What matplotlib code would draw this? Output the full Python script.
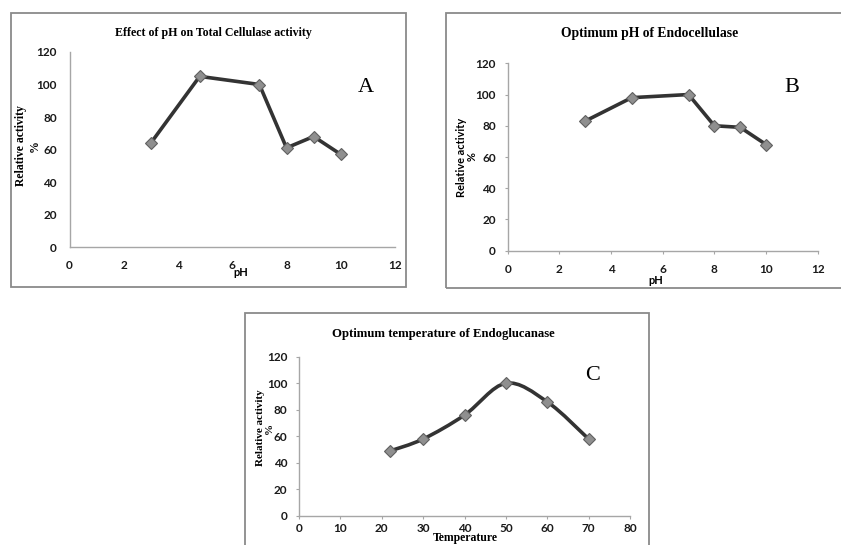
import matplotlib
matplotlib.use("Agg")
import matplotlib.pyplot as plt
from matplotlib.patches import Rectangle, PathPatch
from matplotlib.path import Path
import numpy as np

# ---- data ----
ph_a = [3, 4.8, 7, 8, 9, 10]
act_a = [64, 105, 100, 61, 68, 57]

ph_b = [3, 4.8, 7, 8, 9, 10]
act_b = [83, 98, 100, 80, 79, 68]

temp_c = [22, 30, 40, 50, 60, 70]
act_c = [49, 58, 76, 100, 86, 58]

yticks = [0, 20, 40, 60, 80, 100, 120]
xticks_ph = [0, 2, 4, 6, 8, 10, 12]
xticks_t = [0, 10, 20, 30, 40, 50, 60, 70, 80]

W, H = 841, 545
fig = plt.figure(figsize=(W / 100, H / 100), dpi=100)
fig.patch.set_facecolor("white")

SERIF = "Liberation Serif"
SANS = "Lato"
LINE_C = "#333333"
AX_C = "#a6a6a6"
FRAME_C = "#8a8a8a"
TICK_FS = 8.5


def px_axes(x0, y0, x1, y1):
    return fig.add_axes([x0 / W, 1 - y1 / H, (x1 - x0) / W, (y1 - y0) / H])


def frame(x0, y0, x1, y1):
    fig.patches.append(Rectangle((x0 / W, 1 - y1 / H), (x1 - x0) / W, (y1 - y0) / H,
                                 transform=fig.transFigure, fill=False,
                                 edgecolor=FRAME_C, linewidth=1.3, zorder=0))


def style(ax, xt, xlim, ticks):
    ax.set_xlim(*xlim)
    ax.set_ylim(0, 120)
    ax.set_xticks(xt)
    ax.set_yticks(yticks)
    for s in ["top", "right"]:
        ax.spines[s].set_visible(False)
    for s in ["left", "bottom"]:
        ax.spines[s].set_color(AX_C)
        ax.spines[s].set_linewidth(1.0)
    ax.patch.set_alpha(0)
    if ticks:
        ax.tick_params(length=2.5, width=0.8, color=AX_C, direction="out")
    else:
        ax.tick_params(length=0)
    for lab in ax.get_xticklabels() + ax.get_yticklabels():
        lab.set_fontfamily(SANS)
        lab.set_fontweight("bold")
        lab.set_fontsize(TICK_FS)
        lab.set_color("#1a1a1a")


def marker_plot(ax, x, y, line=True):
    ax.plot(x, y, color=LINE_C, linewidth=2.6 if line else 0, marker="D", markersize=6,
            markerfacecolor="#8f8f8f", markeredgecolor="#606060", markeredgewidth=0.8,
            zorder=3)


# ---------- Panel A ----------
frame(11, 13, 406, 287)
axA = px_axes(69.5, 52, 395, 247)
marker_plot(axA, ph_a, act_a)
style(axA, xticks_ph, (0, 12), ticks=False)
axA.tick_params(axis="y", pad=9)
axA.tick_params(axis="x", pad=9)
fig.text(213 / W, 1 - 33 / H, "Effect of pH on Total Cellulase activity", family=SERIF,
         weight="bold", fontsize=8.6, ha="center", va="center")
fig.text(28 / W, 1 - 146 / H, "Relative activity\n%", family=SERIF, weight="bold",
         fontsize=8.5, rotation=90, ha="center", va="center", multialignment="center",
         linespacing=1.2)
fig.text(241 / W, 1 - 272 / H, "pH", family=SANS, weight="bold", fontsize=8,
         ha="center", va="center")
fig.text(366 / W, 1 - 88 / H, "A", family=SERIF, fontsize=16, ha="center", va="center")

# ---------- Panel B ----------
frame(446.5, 12.7, 860, 288.3)
axB = px_axes(507.7, 63.3, 817.7, 250.7)
marker_plot(axB, ph_b, act_b)
style(axB, xticks_ph, (0, 12), ticks=True)
axB.tick_params(axis="y", pad=6)
axB.tick_params(axis="x", pad=7)
fig.text(650 / W, 1 - 34 / H, "Optimum pH of Endocellulase", family=SERIF,
         weight="bold", fontsize=9.8, ha="center", va="center")
fig.text(467 / W, 1 - 157 / H, "Relative activity\n%", family=SANS, weight="bold",
         fontsize=7.9, rotation=90, ha="center", va="center", multialignment="center",
         linespacing=1.0)
fig.text(656 / W, 1 - 280 / H, "pH", family=SANS, weight="bold", fontsize=8,
         ha="center", va="center")
fig.text(792 / W, 1 - 88 / H, "B", family=SERIF, fontsize=16, ha="center", va="center")

# ---------- Panel C ----------
frame(245, 312.7, 649, 560)
axC = px_axes(299, 356.7, 630, 516)
xs = np.array(temp_c, dtype=float)
ys = np.array(act_c, dtype=float)
P = np.column_stack([xs, ys])
Pext = np.vstack([P[0], P, P[-1]])
verts = [tuple(P[0])]
codes = [Path.MOVETO]
for i in range(len(P) - 1):
    p0, p1, p2, p3 = Pext[i], Pext[i + 1], Pext[i + 2], Pext[i + 3]
    c1 = p1 + (p2 - p0) / 6.0
    c2 = p2 - (p3 - p1) / 6.0
    verts += [tuple(c1), tuple(c2), tuple(p2)]
    codes += [Path.CURVE4] * 3
axC.add_patch(PathPatch(Path(verts, codes), fill=False, edgecolor=LINE_C,
                        linewidth=2.6, zorder=2, capstyle="round"))
marker_plot(axC, temp_c, act_c, line=False)
style(axC, xticks_t, (0, 80), ticks=True)
axC.tick_params(axis="y", pad=6)
axC.tick_params(axis="x", pad=2.5)
fig.text(443 / W, 1 - 334 / H, "Optimum temperature of Endoglucanase", family=SERIF,
         weight="bold", fontsize=9.2, ha="center", va="center")
fig.text(265 / W, 1 - 428 / H, "Relative activity\n%", family=SERIF, weight="bold",
         fontsize=8, rotation=90, ha="center", va="center", multialignment="center",
         linespacing=1.05)
fig.text(465 / W, 1 - 538 / H, "Temperature", family=SERIF, weight="bold", fontsize=8.5,
         ha="center", va="center")
fig.text(593 / W, 1 - 375 / H, "C", family=SERIF, fontsize=16, ha="center", va="center")

fig.savefig("out.png", dpi=100)
